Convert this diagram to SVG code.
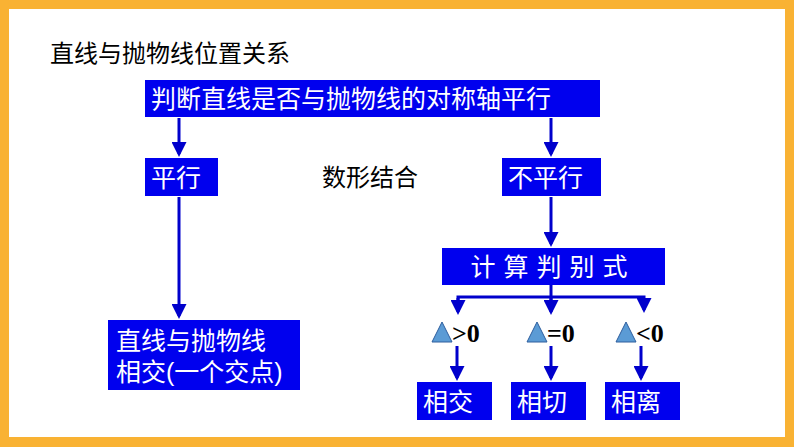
<svg xmlns="http://www.w3.org/2000/svg" width="794" height="447" viewBox="0 0 794 447">
<defs>
<style>
.b{fill:#0000EE}
.t{fill:#fff;font-family:"Liberation Sans","Noto Sans CJK SC",sans-serif;font-size:25px}
.k{fill:#000;font-family:"Liberation Sans","Noto Sans CJK SC",sans-serif;font-size:24px}
.m{fill:#000;font-family:"Liberation Serif","Noto Sans CJK SC",serif;font-size:26px;font-weight:bold}
.c{stroke:#0000CC;stroke-width:3;fill:none}
.tri{fill:#5B9BD5;stroke:#2E5E9E;stroke-width:1}
</style>
<marker id="a" markerWidth="5" markerHeight="5" refX="4" refY="2.5" orient="auto"><path d="M0,0L5,2.5L0,5z" fill="#0000CC"/></marker>
</defs>
<rect x="0" y="0" width="794" height="447" fill="#F9B233"/>
<rect x="9" y="9" width="776" height="428" fill="#fff"/>
<text class="k" x="50" y="62">直线与抛物线位置关系</text>
<g id="n1"><rect class="b" x="145" y="80" width="455" height="37"/><text class="t" x="151" y="108">判断直线是否与抛物线的对称轴平行</text></g>
<g id="n2"><rect class="b" x="145" y="158" width="73" height="38"/><text class="t" x="151" y="187">平行</text></g>
<g id="n3"><rect class="b" x="502" y="158" width="99" height="38"/><text class="t" x="508" y="187">不平行</text></g>
<g id="lbl"><text class="k" x="322" y="186">数形结合</text></g>
<g id="n4"><rect class="b" x="108" y="320" width="192" height="70"/><text class="t" x="116" y="350">直线与抛物线</text><text class="t" x="116" y="381">相交(一个交点)</text></g>
<g id="n5"><rect class="b" x="442" y="248" width="223" height="37"/><text class="t" x="553" y="276" text-anchor="middle" letter-spacing="8">计算判别式</text></g>
<g id="d1"><polygon class="tri" points="432,342 442,322 452,342"/><text class="m" x="452" y="342">&gt;0</text></g>
<g id="d2"><polygon class="tri" points="527,342 537,322 547,342"/><text class="m" x="547" y="342">=0</text></g>
<g id="d3"><polygon class="tri" points="616,342 626,322 636,342"/><text class="m" x="636" y="342">&lt;0</text></g>
<g id="n6"><rect class="b" x="417" y="382" width="75" height="38"/><text class="t" x="423" y="411">相交</text></g>
<g id="n7"><rect class="b" x="511" y="382" width="75" height="38"/><text class="t" x="517" y="411">相切</text></g>
<g id="n8"><rect class="b" x="605" y="382" width="75" height="38"/><text class="t" x="611" y="411">相离</text></g>
<g id="connectors">
<path class="c" d="M179,118V154" marker-end="url(#a)"/>
<path class="c" d="M551,118V154" marker-end="url(#a)"/>
<path class="c" d="M179,197V316" marker-end="url(#a)"/>
<path class="c" d="M551,197V244" marker-end="url(#a)"/>
<path class="c" d="M551,285V310"/>
<path class="c" d="M458,310V297H644V310" marker-end="url(#a)"/>
<path class="c" d="M458,298V312" marker-end="url(#a)"/>
<path class="c" d="M551,298V312" marker-end="url(#a)"/>
<path class="c" d="M457,346V378" marker-end="url(#a)"/>
<path class="c" d="M551,346V378" marker-end="url(#a)"/>
<path class="c" d="M641,346V378" marker-end="url(#a)"/>
</g>
</svg>
